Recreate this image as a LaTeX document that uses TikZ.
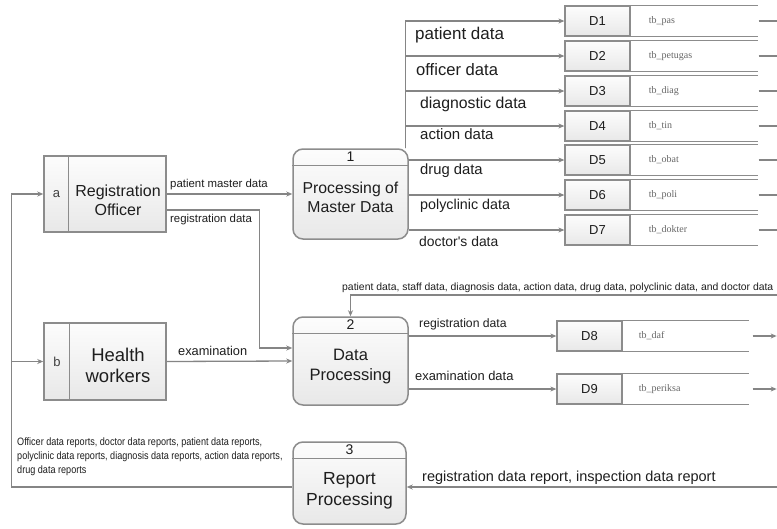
\documentclass[tikz,border=0pt]{standalone}
\usepackage{fontspec}
\setmainfont{Liberation Sans}
\newfontfamily\narrowfont[FakeStretch=0.85]{Liberation Sans}
\newfontfamily\tbfont{Liberation Serif}
\usetikzlibrary{arrows.meta,backgrounds,calc}
\definecolor{linegray}{HTML}{858585}
\definecolor{boxgray}{HTML}{8C8C8C}
\definecolor{txt}{HTML}{1E1E1E}
\newcommand{\fsz}[2]{\fontsize{#1}{#2}\selectfont}
\tikzset{
  line/.style={draw=linegray, line width=1.3pt},
  flow/.style={line, -{Stealth[length=6pt,width=5pt]}},
  boxfill/.style={top color=white!99!black, bottom color=white!91!black},
  entbox/.style={draw=boxgray, line width=1.5pt, boxfill, minimum width=122pt, minimum height=76pt, inner sep=0pt},
  procbox/.style={draw=boxgray, line width=1.5pt, rounded corners=10pt, boxfill, minimum width=115pt, inner sep=0pt},
  storebox/.style={draw=boxgray, line width=1.3pt, boxfill, minimum width=65pt, minimum height=30pt, inner sep=0pt, font=\fsz{13}{15}, text=txt},
  storeline/.style={draw=boxgray, line width=1.3pt},
  divline/.style={draw=boxgray, line width=1.5pt},
  lbl/.style={text=txt, inner sep=0pt, anchor=base west},
  tbname/.style={font=\tbfont\fsz{10}{12}, text=black!60, inner sep=0pt, anchor=west},
  numlbl/.style={text=txt, inner sep=0pt, font=\fsz{14}{16}},
  maintext/.style={text=txt, inner sep=0pt, align=center}
}
\begin{document}
\begin{tikzpicture}[x=1pt, y=-1pt]
\useasboundingbox (0,0) rectangle (777,528);

% external entities
\node[entbox] (ea) at (105,194) {};
\draw[divline] ([xshift=25pt]ea.north west) -- ([xshift=25pt]ea.south west);
\node[text=black!75, inner sep=0pt, font=\fsz{13}{15}] (ealetter) at (56.5,194) {a};
\node[maintext, font=\fsz{16}{19}] (eatext) at (118,200) {Registration\\Officer};

\node[entbox, minimum height=77pt] (eb) at (105,361.5) {};
\draw[divline] ([xshift=26pt]eb.north west) -- ([xshift=26pt]eb.south west);
\node[text=black!75, inner sep=0pt, font=\fsz{13}{15}] (ebletter) at (57,362) {b};
\node[maintext, font=\fsz{18.5}{21}] (ebtext) at (118,365) {Health\\workers};

% processes
\node[procbox, minimum height=90pt] (p1) at (350.5,194) {};
\draw[divline] ([yshift=-17pt]p1.north west) -- ([yshift=-17pt]p1.north east);
\node[numlbl] (n1) at ($(p1.north)+(0,8.5)$) {1};
\node[maintext, font=\fsz{15.8}{19}] (p1text) at (350.5,197) {Processing of\\Master Data};

\node[procbox, minimum height=88pt] (p2) at (350.5,361) {};
\draw[divline] ([yshift=-17pt]p2.north west) -- ([yshift=-17pt]p2.north east);
\node[numlbl] (n2) at ($(p2.north)+(0,8.5)$) {2};
\node[maintext, font=\fsz{16.5}{20}] (p2text) at (350.5,367) {Data\\Processing};

\node[procbox, minimum width=113pt, minimum height=82pt] (p3) at (349.5,483) {};
\draw[divline] ([yshift=-17pt]p3.north west) -- ([yshift=-17pt]p3.north east);
\node[numlbl] (n3) at ($(p3.north)+(0,8.5)$) {3};
\node[maintext, font=\fsz{17.5}{21}] (p3text) at (349.5,491) {Report\\Processing};

% data stores D1..D7
\foreach \n/\y/\t in {1/21/tb\_pas, 2/56/tb\_petugas, 3/91/tb\_diag, 4/126/tb\_tin, 5/160/tb\_obat, 6/195/tb\_poli, 7/230/tb\_dokter}{
  \node[storebox] (d\n) at (597.5,\y) {D\n};
  \draw[storeline] (d\n.north east) -- ++(127,0);
  \draw[storeline] (d\n.south east) -- ++(127,0);
  \node[tbname] (t\n) at ([xshift=18pt]d\n.east) {\t};
  \draw[line] ($(d\n.east)+(128,0)$) -- ++(20,0);
}
% data stores D8, D9
\foreach \n/\y/\t in {8/336/tb\_daf, 9/389/tb\_periksa}{
  \node[storebox] (d\n) at (589.5,\y) {D\n};
  \draw[storeline] (d\n.north east) -- ++(126,0);
  \draw[storeline] (d\n.south east) -- ++(126,0);
  \node[tbname] (t\n) at ([xshift=16pt]d\n.east) {\t};
  \draw[flow] ($(d\n.east)+(130,0)$) -- ++(24,0);
}

\coordinate (feedin) at (777,295);
\coordinate (repin) at (777,487);

\begin{pgfonlayer}{background}
  \fill[white] (0,0) rectangle (777,528);
  % entity a flows
  \draw[flow] (ea.east) -- (p1.west);
  \draw[flow] ([yshift=-16pt]ea.east) -| ([xshift=-33pt,yshift=13pt]p2.west) -- ([yshift=13pt]p2.west);
  \draw[flow] (eb.east) -- (p2.west);
  % process 1 to stores
  \foreach \n in {1,2,3,4}{
    \draw[flow] ([xshift=-3pt]p1.north east) |- (d\n.west);
  }
  \foreach \n in {5,6,7}{
    \draw[flow] (p1.east |- d\n.west) -- (d\n.west);
  }
  % process 2
  \draw[flow] (feedin) -| (p2.north);
  \draw[flow] (p2.east |- d8.west) -- (d8.west);
  \draw[flow] (p2.east |- d9.west) -- (d9.west);
  % process 3
  \draw[flow] (repin) -- (p3.east |- repin);
  \draw[flow] (p3.west |- repin) -| ([xshift=-32pt]ea.west) -- (ea.west);
  \draw[flow] ([xshift=-32pt]eb.west) -- (eb.west);
\end{pgfonlayer}

% labels
\node[lbl, font=\fsz{11.4}{13}] (l1) at (170,187) {patient master data};
\node[lbl, font=\fsz{11.4}{13}] (l2) at (170,222) {registration data};
\node[lbl, font=\fsz{12.8}{15}] (l3) at (178,355) {examination};

\node[lbl, font=\fsz{17}{19}] (s1) at (415,39) {patient data};
\node[lbl, font=\fsz{16.6}{19}] (s2) at (416,75) {officer data};
\node[lbl, font=\fsz{15.8}{18}] (s3) at (420,108) {diagnostic data};
\node[lbl, font=\fsz{15}{17}] (s4) at (420,139) {action data};
\node[lbl, font=\fsz{14.8}{17}] (s5) at (420,174) {drug data};
\node[lbl, font=\fsz{14.3}{16}] (s6) at (420,209) {polyclinic data};
\node[lbl, font=\fsz{13.9}{16}] (s7) at (419,246) {doctor\textquotesingle s data};

\node[lbl, font=\fsz{10.4}{12}] (feedlbl) at (342,290) {patient data, staff data, diagnosis data, action data, drug data, polyclinic data, and doctor data};
\node[lbl, font=\fsz{12.2}{14}] (l8) at (419,327) {registration data};
\node[lbl, font=\fsz{12.9}{15}] (l9) at (415,380) {examination data};

\node[text=txt, inner sep=0pt, anchor=north west, align=left, font=\narrowfont\fsz{10.7}{14}] (replbl) at (17,438) {Officer data reports, doctor data reports, patient data reports,\\polyclinic data reports, diagnosis data reports, action data reports,\\drug data reports};
\node[lbl, font=\fsz{14.5}{17}] (l10) at (422,481) {registration data report, inspection data report};
\end{tikzpicture}
\end{document}
